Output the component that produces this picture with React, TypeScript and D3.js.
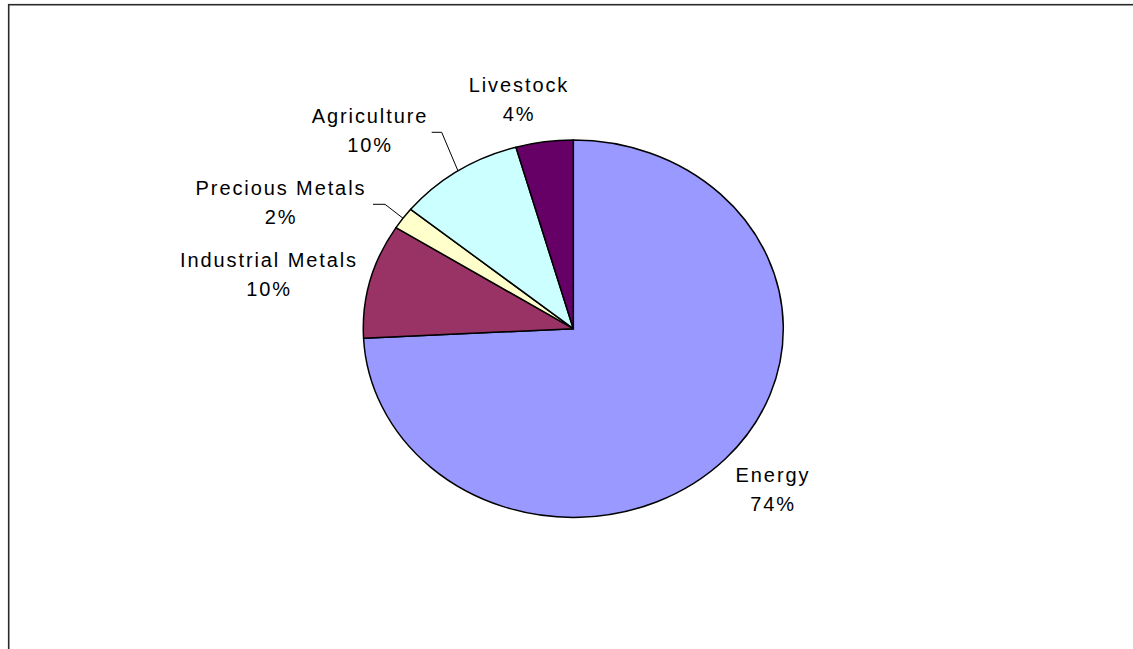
import React from "react";
import * as d3 from "d3";

const categories = ["Energy", "Industrial Metals", "Precious Metals", "Agriculture", "Livestock"];
const values = [74.2, 9.8, 1.9, 9.7, 4.4];
const colors = ["#9999FF", "#993366", "#FFFFCC", "#CCFFFF", "#660066"];

const W = 1133;
const H = 649;
const cx = 573.3;
const cy = 328.7;
const rx = 210;
const ry = 188.7;

// label placement (center x, first baseline y) and optional leader line
const labelPos: { x: number; y: number; leader?: [number, number][] }[] = [
  { x: 773, y: 482 },
  { x: 269, y: 267 },
  { x: 281, y: 195, leader: [[373, 204.3], [385, 204.3]] },
  { x: 370, y: 123, leader: [[431.7, 132.3], [441.7, 132.3]] },
  { x: 519, y: 92 },
];

export default function App() {
  const pie = d3.pie<number>().sort(null).startAngle(0).endAngle(2 * Math.PI);
  const arcs = pie(values);
  const arc = d3.arc<d3.PieArcDatum<number>>().innerRadius(0).outerRadius(ry);
  const total = d3.sum(values);
  const sx = rx / ry;
  const edge = (a: number): [number, number] => [cx + rx * Math.sin(a), cy - ry * Math.cos(a)];

  return (
    <svg
      width={W}
      height={H}
      style={{ position: "absolute", left: 0, top: 0, display: "block", background: "#fff" }}
      fontFamily="'Liberation Sans', Arial, sans-serif"
    >
      <rect x={8.7} y={4.7} width={1300} height={800} fill="#fff" stroke="#2a2a2a" strokeWidth={1.6} />
      <g transform={`translate(${cx},${cy}) scale(${sx},1)`}>
        {arcs.map((a, i) => (
          <path
            key={categories[i]}
            d={arc(a) || ""}
            fill={colors[i]}
            stroke="#000"
            strokeWidth={1.5}
            vectorEffect="non-scaling-stroke"
            strokeLinejoin="round"
          />
        ))}
      </g>
      {arcs.map((a, i) => {
        const lp = labelPos[i];
        const pct = Math.round((values[i] / total) * 100);
        const mid = (a.startAngle + a.endAngle) / 2;
        const pts = lp.leader ? [...lp.leader, edge(mid)] : null;
        return (
          <g key={"l" + i}>
            {pts && (
              <polyline
                points={pts.map((p) => p.join(",")).join(" ")}
                fill="none"
                stroke="#000"
                strokeWidth={1}
              />
            )}
            <text
              x={lp.x}
              y={lp.y}
              textAnchor="middle"
              fontSize={20}
              letterSpacing={1.9}
              fill="#000"
            >
              {categories[i]}
            </text>
            <text
              x={lp.x}
              y={lp.y + 29}
              textAnchor="middle"
              fontSize={20}
              letterSpacing={1.9}
              fill="#000"
            >
              {pct + "%"}
            </text>
          </g>
        );
      })}
    </svg>
  );
}
